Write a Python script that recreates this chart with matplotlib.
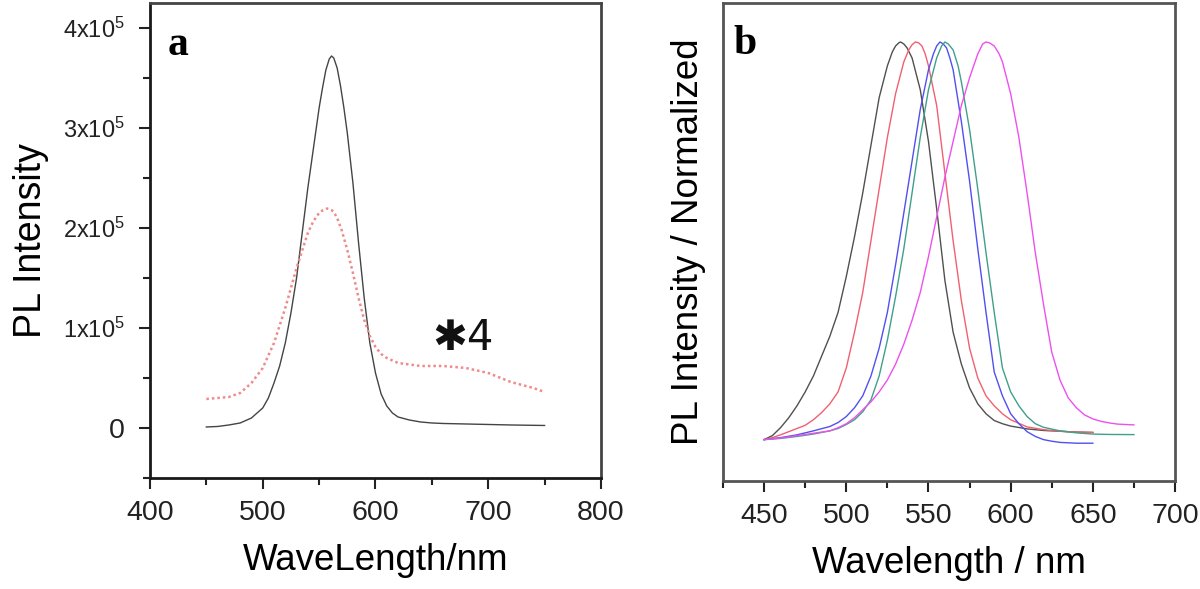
import matplotlib
matplotlib.use("Agg")
import matplotlib.pyplot as plt
from matplotlib.ticker import MultipleLocator, FixedLocator, FixedFormatter

plt.rcParams['font.family'] = ['Liberation Sans', 'DejaVu Sans']
plt.rcParams['mathtext.fontset'] = 'custom'
plt.rcParams['mathtext.rm'] = 'Liberation Sans'

# ---------------- Panel a data ----------------
wl_a_black = [450, 460, 470, 480, 490, 500, 505, 510, 515, 520, 525, 530, 535, 540, 545,
              550, 553, 556, 559, 561, 563, 566, 569, 572, 575, 580, 585, 590, 595, 600,
              605, 610, 615, 620, 630, 640, 650, 660, 680, 700, 720, 750]
pl_a_black = [0.010e5, 0.015e5, 0.03e5, 0.05e5, 0.10e5, 0.20e5, 0.30e5, 0.45e5, 0.62e5,
              0.85e5, 1.15e5, 1.50e5, 1.95e5, 2.40e5, 2.80e5, 3.20e5, 3.40e5, 3.58e5,
              3.69e5, 3.72e5, 3.70e5, 3.60e5, 3.42e5, 3.20e5, 2.95e5, 2.45e5, 1.85e5,
              1.30e5, 0.85e5, 0.55e5, 0.34e5, 0.22e5, 0.15e5, 0.11e5, 0.08e5, 0.06e5,
              0.05e5, 0.045e5, 0.04e5, 0.035e5, 0.03e5, 0.025e5]

wl_a_red = [450, 460, 470, 480, 490, 500, 510, 520, 530, 540, 545, 550, 553, 557, 561,
            563, 566, 570, 575, 580, 585, 590, 595, 600, 605, 610, 620, 640, 660, 680,
            700, 720, 740, 750]
pl_a_red = [0.29e5, 0.30e5, 0.31e5, 0.35e5, 0.45e5, 0.60e5, 0.85e5, 1.20e5, 1.60e5,
            1.95e5, 2.07e5, 2.15e5, 2.175e5, 2.195e5, 2.18e5, 2.16e5, 2.10e5, 1.98e5,
            1.78e5, 1.55e5, 1.30e5, 1.08e5, 0.92e5, 0.81e5, 0.74e5, 0.70e5, 0.65e5,
            0.62e5, 0.62e5, 0.60e5, 0.55e5, 0.46e5, 0.40e5, 0.36e5]

xticks_a = [400, 500, 600, 700, 800]
yticks_a = [0, 1e5, 2e5, 3e5, 4e5]
ytick_labels_a = ['0', r'$\mathregular{1x10^5}$', r'$\mathregular{2x10^5}$',
                  r'$\mathregular{3x10^5}$', r'$\mathregular{4x10^5}$']

# ---------------- Panel b data ----------------
wl_b_black = [450, 455, 460, 465, 470, 475, 480, 485, 490, 495, 500, 505, 510, 515, 520,
              525, 528, 530, 532, 533, 535, 537, 540, 545, 550, 555, 560, 565, 570, 575,
              580, 585, 590, 595, 600, 610, 620, 630, 640, 650]
pl_b_black = [0.0, 0.01, 0.03, 0.055, 0.085, 0.12, 0.16, 0.21, 0.26, 0.32, 0.41, 0.51,
              0.62, 0.74, 0.86, 0.94, 0.975, 0.99, 0.998, 1.0, 0.995, 0.985, 0.96, 0.88,
              0.75, 0.58, 0.40, 0.27, 0.19, 0.13, 0.09, 0.065, 0.048, 0.04, 0.034,
              0.027, 0.023, 0.021, 0.019, 0.018]

wl_b_red = [450, 455, 460, 465, 470, 475, 480, 485, 490, 495, 500, 505, 510, 515, 520,
            525, 530, 535, 538, 540, 542, 544, 546, 548, 550, 555, 560, 565, 570, 575,
            580, 585, 590, 595, 600, 610, 620, 630, 640, 650]
pl_b_red = [0.0, 0.005, 0.012, 0.02, 0.028, 0.036, 0.05, 0.068, 0.09, 0.12, 0.18, 0.27,
            0.37, 0.50, 0.63, 0.76, 0.87, 0.95, 0.98, 0.993, 1.0, 0.998, 0.99, 0.97,
            0.94, 0.84, 0.67, 0.50, 0.35, 0.23, 0.155, 0.11, 0.085, 0.065, 0.05,
            0.032, 0.025, 0.021, 0.019, 0.018]

wl_b_blue = [450, 460, 470, 480, 490, 495, 500, 505, 510, 515, 520, 525, 530, 535, 540,
             545, 550, 553, 555, 557, 559, 561, 563, 565, 570, 575, 580, 585, 590, 595,
             600, 605, 610, 615, 620, 625, 630, 640, 650]
pl_b_blue = [0.0, 0.005, 0.012, 0.022, 0.033, 0.043, 0.058, 0.08, 0.11, 0.16, 0.23,
             0.32, 0.44, 0.57, 0.70, 0.83, 0.93, 0.97, 0.99, 1.0, 0.995, 0.985, 0.96,
             0.93, 0.80, 0.65, 0.48, 0.32, 0.17, 0.11, 0.065, 0.04, 0.02, 0.008, 0.0,
             -0.004, -0.007, -0.009, -0.009]

wl_b_green = [450, 460, 470, 480, 490, 495, 500, 505, 510, 515, 520, 525, 530, 535, 540,
              545, 550, 555, 558, 560, 562, 565, 568, 570, 575, 580, 585, 590, 595, 600,
              605, 610, 615, 620, 630, 640, 650, 660, 675]
pl_b_green = [0.0, 0.003, 0.008, 0.014, 0.022, 0.028, 0.038, 0.05, 0.07, 0.10, 0.16,
              0.25, 0.36, 0.48, 0.62, 0.76, 0.88, 0.96, 0.99, 1.0, 0.995, 0.98, 0.94,
              0.90, 0.78, 0.63, 0.47, 0.32, 0.18, 0.12, 0.085, 0.058, 0.04, 0.031,
              0.022, 0.017, 0.014, 0.013, 0.0126]

wl_b_magenta = [450, 460, 470, 480, 490, 495, 500, 505, 510, 515, 520, 525, 530, 535,
                540, 545, 550, 555, 560, 565, 570, 575, 580, 583, 585, 587, 590, 593,
                595, 600, 605, 610, 615, 620, 625, 630, 635, 640, 645, 650, 655, 660,
                665, 670, 675]
pl_b_magenta = [0.0, 0.004, 0.01, 0.016, 0.022, 0.03, 0.04, 0.055, 0.075, 0.095, 0.12,
                0.15, 0.19, 0.24, 0.30, 0.37, 0.46, 0.56, 0.66, 0.75, 0.84, 0.91, 0.97,
                0.995, 1.0, 0.998, 0.99, 0.97, 0.95, 0.87, 0.76, 0.62, 0.47, 0.34,
                0.22, 0.15, 0.105, 0.08, 0.062, 0.052, 0.046, 0.042, 0.039, 0.038, 0.037]

xticks_b = [450, 500, 550, 600, 650, 700]

# ---------------- Figure ----------------
fig = plt.figure(figsize=(12, 5.89), dpi=100)
ax1 = fig.add_axes([0.125, 0.1885, 0.3758, 0.8064])
ax2 = fig.add_axes([0.6025, 0.1834, 0.3767, 0.8115])

tick_kw = dict(direction='out', width=1.5, colors='#222222')

# Panel a
ax1.plot(wl_a_black, pl_a_black, color='#444444', lw=1.0)
ax1.plot(wl_a_red, pl_a_red, color='#f08a8a', lw=1.8, linestyle=(0, (1, 1.2)))
ax1.set_xlim(400, 800)
ax1.set_ylim(-0.5e5, 4.25e5)
ax1.xaxis.set_major_locator(FixedLocator(xticks_a))
ax1.xaxis.set_minor_locator(MultipleLocator(50))
ax1.yaxis.set_major_locator(FixedLocator(yticks_a))
ax1.yaxis.set_major_formatter(FixedFormatter(ytick_labels_a))
ax1.yaxis.set_minor_locator(MultipleLocator(0.5e5))
ax1.tick_params(axis='both', which='major', length=8, **tick_kw)
ax1.tick_params(axis='both', which='minor', length=5, **tick_kw)
ax1.tick_params(axis='x', which='major', labelsize=20.5, pad=8)
ax1.tick_params(axis='y', which='major', labelsize=17, pad=10)
for lab in ax1.get_yticklabels():
    if lab.get_text() == '0':
        lab.set_fontsize(20.5)
ax1.set_xlabel('WaveLength/nm', fontsize=26.5, labelpad=12)
ax1.set_ylabel('PL Intensity', fontsize=27, labelpad=10)
for side in ['left', 'bottom']:
    ax1.spines[side].set_linewidth(2.0)
    ax1.spines[side].set_color('#1a1a1a')
for side in ['top', 'right']:
    ax1.spines[side].set_linewidth(2.0)
    ax1.spines[side].set_color('#444444')
ax1.text(0.04, 0.891, 'a', transform=ax1.transAxes, fontsize=30, fontweight='bold',
         family='Liberation Serif', va='baseline', ha='left')
ax1.text(650, 0.78e5, '\u27314', fontsize=30, family=['DejaVu Sans', 'Liberation Sans'],
         va='baseline', ha='left', color='#111111')

# Panel b
ax2.plot(wl_b_black, pl_b_black, color='#505050', lw=1.0)
ax2.plot(wl_b_red, pl_b_red, color='#f06070', lw=1.0)
ax2.plot(wl_b_blue, pl_b_blue, color='#5050f0', lw=1.0)
ax2.plot(wl_b_green, pl_b_green, color='#3fa08a', lw=1.0)
ax2.plot(wl_b_magenta, pl_b_magenta, color='#ee50ee', lw=1.0)
ax2.set_xlim(425, 700)
ax2.set_ylim(-0.104, 1.098)
ax2.xaxis.set_major_locator(FixedLocator(xticks_b))
ax2.xaxis.set_minor_locator(MultipleLocator(25))
ax2.set_yticks([])
ax2.tick_params(axis='x', which='major', length=8, labelsize=20.5, pad=8, **tick_kw)
ax2.tick_params(axis='x', which='minor', length=5, **tick_kw)
ax2.set_xlabel('Wavelength / nm', fontsize=26.5, labelpad=12)
ax2.set_ylabel('PL Intensity / Normalized', fontsize=26.5, labelpad=12)
for side in ax2.spines:
    ax2.spines[side].set_linewidth(2.0)
    ax2.spines[side].set_color('#555555')
ax2.text(0.022, 0.893, 'b', transform=ax2.transAxes, fontsize=30, fontweight='bold',
         family='Liberation Serif', va='baseline', ha='left')

fig.savefig('out.png', dpi=100)
